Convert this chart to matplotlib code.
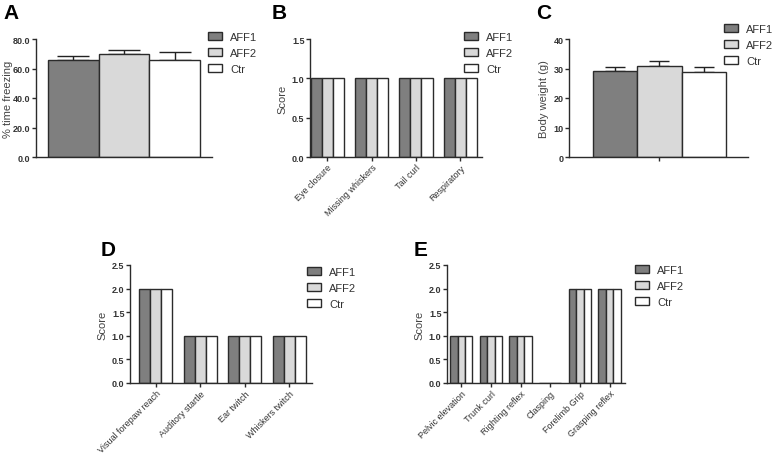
import numpy as np
import matplotlib.pyplot as plt
from matplotlib.patches import Patch

plt.rcParams['font.family'] = ['Liberation Sans', 'DejaVu Sans']

groups = ['AFF1', 'AFF2', 'Ctr']
colors = ['#7f7f7f', '#d9d9d9', '#ffffff']
edge = '#2b2b2b'

# panel A: % time freezing (mean, upper SEM)
freeze_mean = [65.5, 70.0, 66.0]
freeze_err = [3.0, 2.8, 5.0]

# panel C: body weight
weight_mean = [29.0, 30.8, 28.8]
weight_err = [1.6, 1.8, 1.8]

# panel B
b_cats = ['Eye closure', 'Missing whiskers', 'Tail curl', 'Respiratory']
b_vals = {'AFF1': [1, 1, 1, 1], 'AFF2': [1, 1, 1, 1], 'Ctr': [1, 1, 1, 1]}

# panel D
d_cats = ['Visual forepaw reach', 'Auditory startle', 'Ear twitch', 'Whiskers twitch']
d_vals = {'AFF1': [2, 1, 1, 1], 'AFF2': [2, 1, 1, 1], 'Ctr': [2, 1, 1, 1]}

# panel E
e_cats = ['Pelvic elevation', 'Trunk curl', 'Righting reflex', 'Clasping',
          'Forelimb Grip', 'Grasping reflex']
e_vals = {'AFF1': [1, 1, 1, 0, 2, 2], 'AFF2': [1, 1, 1, 0, 2, 2], 'Ctr': [1, 1, 1, 0, 2, 2]}

W, H = 778, 456
fig = plt.figure(figsize=(W / 100, H / 100), dpi=100)


def box(l, r, t, b):
    return [l / W, 1 - b / H, (r - l) / W, (b - t) / H]


def style(ax, ylim, yticks, fmt, ylabel, pad=3):
    for s in ['top', 'right']:
        ax.spines[s].set_visible(False)
    for s in ['left', 'bottom']:
        ax.spines[s].set_color(edge)
        ax.spines[s].set_linewidth(1.0)
    ax.set_ylim(ylim[0], ylim[1])
    ax.set_yticks(yticks)
    ax.set_yticklabels([fmt % v for v in yticks], fontsize=6.5, fontweight='bold', color='#333333')
    ax.tick_params(axis='both', length=3, width=1, color=edge, pad=1)
    ax.set_ylabel(ylabel, fontsize=8, color='#444444', labelpad=pad)


def add_legend(x, y):
    handles = [Patch(facecolor=c, edgecolor=edge, linewidth=1.0, label=g)
               for g, c in zip(groups, colors)]
    fig.legend(handles=handles, loc='upper left', bbox_to_anchor=(x / W, 1 - y / H),
               frameon=False, fontsize=8, borderpad=0, borderaxespad=0,
               handlelength=1.3, handleheight=0.75, handletextpad=0.7,
               labelspacing=0.55, labelcolor='#333333')


def single_panel(pos, mean, err, xlim, cap, tick):
    ax = fig.add_axes(pos)
    x = np.arange(3)
    ax.bar(x, mean, width=1.0, color=colors, edgecolor=edge, linewidth=1.0, zorder=2)
    ax.errorbar(x, mean, yerr=[np.zeros(3), err], fmt='none', ecolor='#222222',
                elinewidth=1.0, capsize=cap, capthick=1.0, zorder=1)
    ax.set_xlim(*xlim)
    if tick:
        ax.set_xticks([1])
        ax.set_xticklabels([''])
    else:
        ax.set_xticks([])
    return ax


def group_panel(pos, cats, vals, xlim):
    ax = fig.add_axes(pos)
    x = np.arange(len(cats))
    w = 0.25
    for i, g in enumerate(groups):
        ax.bar(x + (i - 1) * w, vals[g], width=w, color=colors[i],
               edgecolor=edge, linewidth=1.0)
    ax.set_xlim(*xlim)
    ax.set_xticks(x)
    ax.set_xticklabels(cats, rotation=45, ha='right', rotation_mode='anchor',
                       fontsize=6.5, color='#333333')
    return ax


# A
ax = single_panel(box(36, 212, 40, 158), freeze_mean, freeze_err, (-0.737, 2.737), 11.5, False)
style(ax, (0, 80), [0, 20, 40, 60, 80], '%.1f', '% time freezing', pad=0)
add_legend(208, 33)
fig.text(3 / W, 1 - 4 / H, 'A', fontsize=15, fontweight='bold', va='top')

# B
ax = group_panel(box(310, 482, 40, 158), b_cats, b_vals, (-0.39, 3.49))
style(ax, (0, 1.5), [0, 0.5, 1.0, 1.5], '%.1f', 'Score')
add_legend(464, 33)
fig.text(272 / W, 1 - 4 / H, 'B', fontsize=15, fontweight='bold', va='top')

# C
ax = single_panel(box(569, 748, 40, 158), weight_mean, weight_err, (-1.04, 3.0), 7, True)
style(ax, (0, 40), [0, 10, 20, 30, 40], '%d', 'Body weight (g)')
add_legend(724, 25)
fig.text(536 / W, 1 - 4 / H, 'C', fontsize=15, fontweight='bold', va='top')

# D
ax = group_panel(box(130, 312, 266, 384), d_cats, d_vals, (-0.58, 3.51))
style(ax, (0, 2.5), [0, 0.5, 1.0, 1.5, 2.0, 2.5], '%.1f', 'Score')
add_legend(307, 268)
fig.text(101 / W, 1 - 241 / H, 'D', fontsize=15, fontweight='bold', va='top')

# E
ax = group_panel(box(447, 625, 266, 384), e_cats, e_vals, (-0.48, 5.52))
style(ax, (0, 2.5), [0, 0.5, 1.0, 1.5, 2.0, 2.5], '%.1f', 'Score')
add_legend(635, 266)
fig.text(414 / W, 1 - 241 / H, 'E', fontsize=15, fontweight='bold', va='top')

fig.savefig('out.png', dpi=100)
